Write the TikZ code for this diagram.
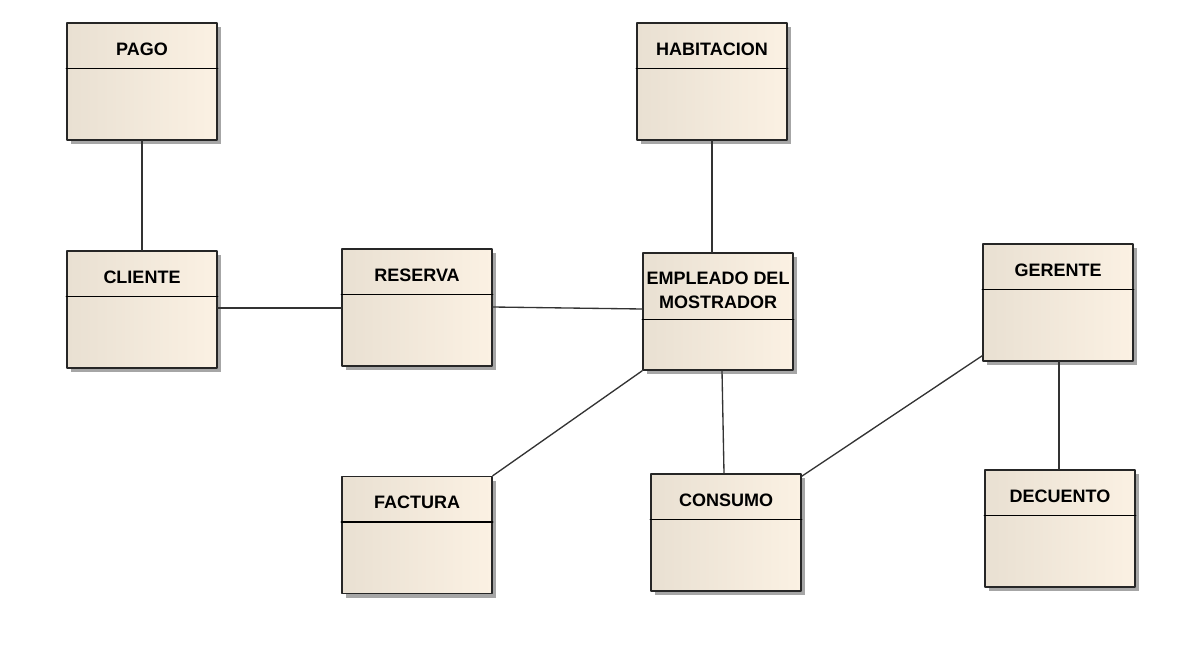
\documentclass[tikz,border=0pt]{standalone}
\usepackage{fontspec}
\setmainfont{Liberation Sans}
\usetikzlibrary{calc,shadows}
\definecolor{crema}{HTML}{FBF1E3}
\definecolor{cremaosc}{HTML}{E9E0D2}
\definecolor{linea}{HTML}{333333}
\tikzset{
  clase/.style={rectangle, draw=black!85, line width=1.1pt, inner sep=0pt,
    minimum width=112.5pt, minimum height=87.75pt,
    left color=cremaosc, right color=crema,
    drop shadow={shadow xshift=3pt, shadow yshift=-3pt, fill=black!35, opacity=1}},
  titulo/.style={font=\fontsize{13.5}{18}\selectfont\bfseries, align=center, inner sep=0pt},
  enlace/.style={draw=linea, line width=1pt}
}
\begin{document}
\begin{tikzpicture}[x=0.75pt, y=-0.75pt, line join=round, line cap=round]
  \useasboundingbox (0,0) rectangle (1180,652);
  % clases
  \node[clase] (pago) at (142,81.5) {};
  \node[clase] (habitacion) at (712,81.5) {};
  \node[clase] (cliente) at (142,309.5) {};
  \node[clase] (reserva) at (417,307.5) {};
  \node[clase] (empleado) at (718,311.5) {};
  \node[clase] (gerente) at (1058,302.5) {};
  \node[clase] (factura) at (417,535) {};
  \node[clase] (consumo) at (726,532.5) {};
  \node[clase] (decuento) at (1060,528.5) {};
  % compartimentos
  \foreach \c in {pago,habitacion,cliente,reserva,gerente,factura,consumo,decuento}
    \draw[line width=1.1pt] ($(\c.north west)+(0,46)$) -- ($(\c.north east)+(0,46)$);
  \draw[line width=1.1pt] ($(empleado.north west)+(0,67)$) -- ($(empleado.north east)+(0,67)$);
  % nombres
  \foreach \c/\t in {pago/PAGO,habitacion/HABITACION,cliente/CLIENTE,reserva/RESERVA,
      gerente/GERENTE,factura/FACTURA,consumo/CONSUMO,decuento/DECUENTO}
    \node[titulo] (\c-t) at ($(\c.north)+(0,27)$) {\t};
  \node[titulo] (empleado-t) at ($(empleado.north)+(0,38)$) {EMPLEADO DEL\\MOSTRADOR};
  % asociaciones
  \draw[enlace] (pago) -- (cliente);
  \draw[enlace] (cliente.east |- 0,308) coordinate (c1) -- (c1 -| reserva.west);
  \draw[enlace] ($(reserva.east)+(0,-0.5)$) -- ($(empleado.west)+(0,-2.5)$);
  \draw[enlace] (habitacion.south) -- (habitacion.south |- empleado.north);
  \draw[enlace] (empleado.south west) -- (factura.north east);
  \draw[enlace] ($(empleado.south)+(4,0)$) -- ($(consumo.north)+(-2,0)$);
  \draw[enlace] ($(consumo.north east)+(0,3)$) -- ($(gerente.south west)+(0,-6)$);
  \draw[enlace] ($(gerente.south)+(1,0)$) coordinate (g1) -- (g1 |- decuento.north);
\end{tikzpicture}
\end{document}
